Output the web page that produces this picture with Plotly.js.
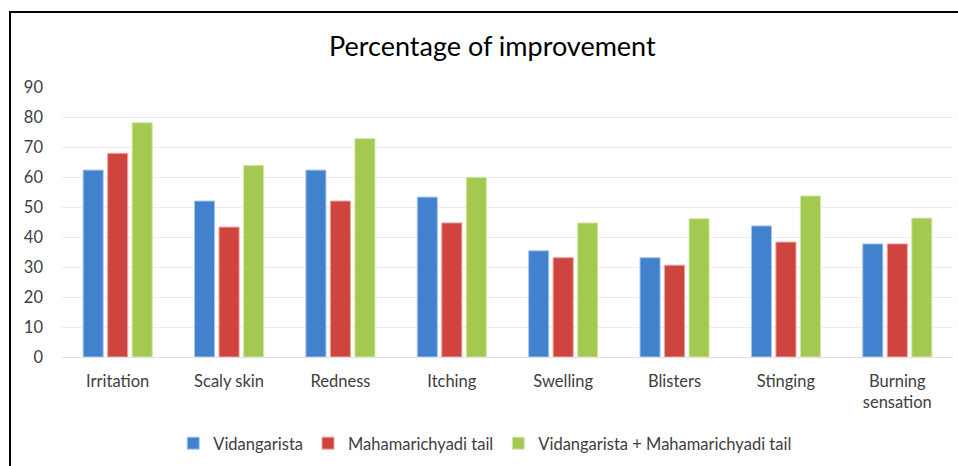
<!DOCTYPE html>
<html>
<head>
<meta charset="utf-8">
<script src="https://cdn.plot.ly/plotly-3.0.1.min.js"></script>
<style>
  html, body { margin: 0; padding: 0; background: #fff; }
  #wrap { position: relative; width: 958px; height: 466px; overflow: hidden; }
  #chart { position: absolute; left: 0; top: 0; width: 958px; height: 466px; }
  #frame { position: absolute; left: 9px; top: 11px; width: 1000px; height: 1000px;
           border-left: 2px solid #000; border-top: 2px solid #000; pointer-events: none; }
</style>
</head>
<body>
<div id="wrap">
  <div id="chart"></div>
  <div id="frame"></div>
</div>
<script>
const categories = ["Irritation", "Scaly skin", "Redness", "Itching", "Swelling", "Blisters", "Stinging", "Burning<br>sensation"];
const vidangarista = [62.3, 52.0, 62.3, 53.3, 35.4, 33.1, 43.7, 37.7];
const mahamarichyadi = [67.9, 43.3, 52.0, 44.7, 33.1, 30.6, 38.3, 37.7];
const combined = [78.1, 63.9, 72.8, 59.9, 44.7, 46.1, 53.7, 46.3];
const seriesNames = ["Vidangarista", "Mahamarichyadi tail", "Vidangarista + Mahamarichyadi tail"];
const yTicks = [0, 10, 20, 30, 40, 50, 60, 70, 80, 90];

const colors = ["#4181CE", "#D0443F", "#A3C951"];
const lineColors = ["#a9c6ec", "#eaa5a2", "#d5e8ad"];
const allSeries = [vidangarista, mahamarichyadi, combined];

const traces = allSeries.map((vals, i) => ({
  type: "bar",
  name: seriesNames[i],
  x: categories,
  y: vals,
  marker: { color: colors[i], line: { color: lineColors[i], width: 1 } },
  hoverinfo: "x+y+name"
}));

const layout = {
  width: 958,
  height: 466,
  margin: { l: 62, r: 5, t: 87, b: 109 },
  paper_bgcolor: "#fff",
  plot_bgcolor: "#fff",
  font: { family: "Lato, 'Open Sans', sans-serif", size: 16.5, color: "#404040" },
  title: {
    text: "Percentage of improvement",
    font: { family: "Lato, 'Open Sans', sans-serif", size: 27, color: "#000" },
    x: 0.483, xanchor: "center", xref: "paper",
    y: 0.9, yanchor: "middle", yref: "container"
  },
  barmode: "group",
  bargap: 0.34,
  bargroupgap: 0.18,
  xaxis: {
    type: "category",
    showgrid: false,
    showline: false,
    ticks: "",
    ticklabelstandoff: 12,
    tickfont: { size: 16.5, color: "#404040" },
    automargin: false
  },
  yaxis: {
    range: [0, 90],
    tickvals: yTicks,
    ticktext: yTicks.map(String),
    showgrid: true,
    gridcolor: "#ececec",
    gridwidth: 1,
    zeroline: true,
    zerolinecolor: "#e0e0e0",
    zerolinewidth: 1,
    showline: false,
    ticks: "",
    ticklabelstandoff: 18,
    tickfont: { size: 16.5, color: "#404040" },
    automargin: false
  },
  showlegend: true,
  legend: {
    orientation: "h",
    x: 0.475, xanchor: "center",
    y: -0.32, yanchor: "middle",
    font: { size: 16.5, color: "#404040" },
    itemwidth: 30,
    traceorder: "normal",
    bgcolor: "rgba(0,0,0,0)"
  }
};

Plotly.newPlot("chart", traces, layout, { displayModeBar: false, staticPlot: true });
</script>
</body>
</html>
